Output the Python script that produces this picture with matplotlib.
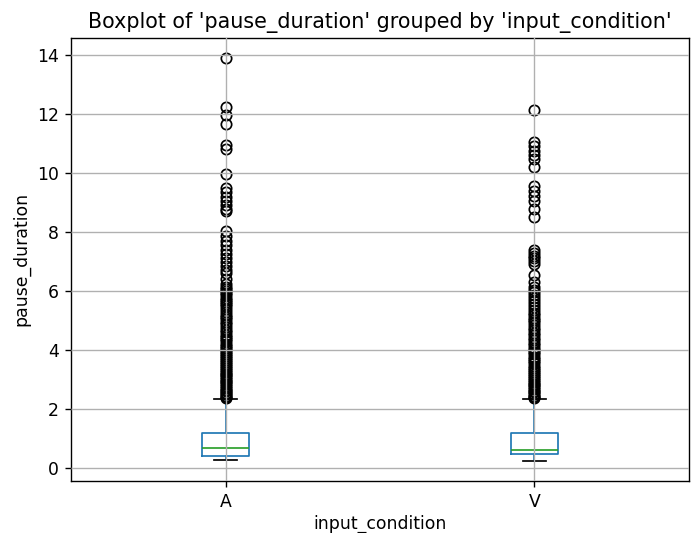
import matplotlib
matplotlib.use("Agg")
import matplotlib.pyplot as plt

categories = ["A", "V"]

# box statistics: whislo, q1, median, q3, whishi
whislo = [0.26, 0.25]
q1 = [0.40, 0.46]
med = [0.67, 0.61]
q3 = [1.18, 1.20]
whishi = [2.33, 2.33]

fliers_A = [2.36, 2.4, 2.45, 2.5, 2.55, 2.6, 2.66, 2.72, 2.78, 2.85, 2.9, 2.96,
            3.02, 3.08, 3.15, 3.2, 3.27, 3.33, 3.4, 3.46, 3.52, 3.6, 3.66, 3.72,
            3.8, 3.87, 3.94, 4.0, 4.08, 4.15, 4.22, 4.3, 4.38, 4.45, 4.52, 4.6,
            4.68, 4.78, 4.88, 4.95, 5.05, 5.12, 5.2, 5.3, 5.4, 5.48, 5.55, 5.62,
            5.7, 5.78, 5.85, 5.92, 6.0, 6.08, 6.15, 6.25, 6.4, 6.6, 6.72, 6.85,
            7.0, 7.12, 7.25, 7.4, 7.55, 7.7, 7.85, 8.02, 8.7, 8.78, 8.9, 9.05,
            9.2, 9.35, 9.5, 9.97, 10.8, 10.95, 11.65, 11.95, 12.25, 13.9]

fliers_V = [2.36, 2.4, 2.45, 2.5, 2.56, 2.62, 2.68, 2.74, 2.8, 2.86, 2.92, 2.98,
            3.05, 3.12, 3.18, 3.25, 3.32, 3.4, 3.47, 3.55, 3.62, 3.7, 3.78, 3.85,
            3.92, 4.0, 4.08, 4.16, 4.25, 4.33, 4.42, 4.5, 4.58, 4.67, 4.75, 4.85,
            4.95, 5.02, 5.1, 5.18, 5.25, 5.35, 5.45, 5.55, 5.65, 5.75, 5.85, 5.95,
            6.05, 6.15, 6.3, 6.55, 6.9, 7.02, 7.12, 7.2, 7.3, 7.4, 8.5, 8.78,
            9.06, 9.23, 9.4, 9.55, 10.19, 10.47, 10.62, 10.75, 10.9, 11.04, 12.15]

fliers = [fliers_A, fliers_V]

stats = []
for i, c in enumerate(categories):
    stats.append(dict(label=c, whislo=whislo[i], q1=q1[i], med=med[i],
                      q3=q3[i], whishi=whishi[i], fliers=fliers[i]))

DPI = 124
fig, ax = plt.subplots(figsize=(691 / DPI, 533 / DPI), dpi=DPI)
fig.subplots_adjust(left=0.103, right=0.997, top=0.929, bottom=0.098)

ax.bxp(stats,
       boxprops=dict(color="#1f77b4"),
       whiskerprops=dict(color="#1f77b4"),
       medianprops=dict(color="#2ca02c"),
       capprops=dict(color="k"),
       flierprops=dict(marker="o", markerfacecolor="none",
                       markeredgecolor="k", markersize=6))

ax.grid(True)
ax.set_axisbelow(False)
ax.set_title("Boxplot of 'pause_duration' grouped by 'input_condition'")
ax.set_xlabel("input_condition", labelpad=2)
ax.set_ylabel("pause_duration")
ax.set_yticks([0, 2, 4, 6, 8, 10, 12, 14])

fig.savefig("out.png", dpi=DPI)
